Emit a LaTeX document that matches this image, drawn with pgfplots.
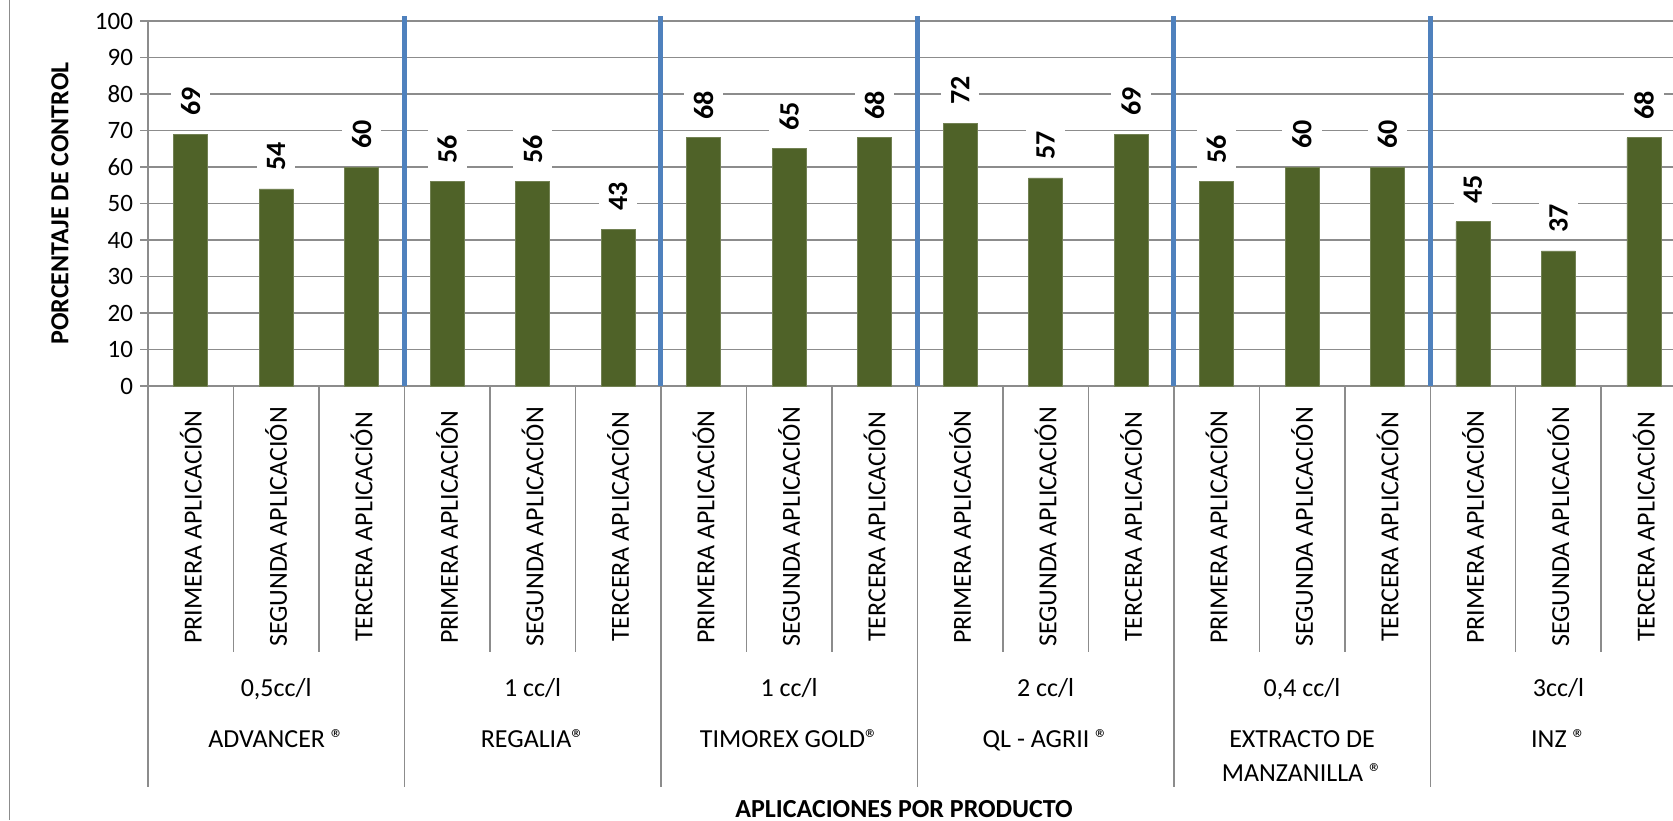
\documentclass[border=0pt]{standalone}
\usepackage{fontspec}
\setmainfont{Carlito}
\usepackage{pgfplots}
\pgfplotsset{compat=1.18}
\definecolor{barcol}{HTML}{4F6228}
\definecolor{gridcol}{HTML}{8C8C8C}
\definecolor{sepblue}{HTML}{4F81BD}
\newcommand{\catfont}{\fontsize{13}{16}\selectfont}
\newcommand{\valfont}{\fontsize{14}{17}\selectfont\bfseries}

\begin{document}
\begin{tikzpicture}
\useasboundingbox (0,0) rectangle (836.5pt,410pt);
\clip (0,0) rectangle (836.5pt,410pt);
\draw[gridcol, line width=0.8pt] (4.7pt,0) -- (4.7pt,410pt);
\begin{axis}[
    at={(74pt,217pt)}, anchor=south west,
    scale only axis, width=762.5pt, height=182.5pt,
    xmin=-0.5, xmax=17.34, ymin=0, ymax=100,
    ybar, bar width=17pt,
    ytick={0,10,...,100},
    xtick=\empty,
    ymajorgrids,
    grid style={gridcol, line width=0.75pt},
    axis lines*=left,
    axis line style={gridcol, line width=0.75pt},
    tick style={gridcol, line width=0.75pt},
    major tick length=4pt, tick align=outside,
    yticklabel style={font=\fontsize{12.5}{15}\selectfont, text=black},
    /pgf/number format/assume math mode=true,
    clip=false,
    nodes near coords,
    every node near coord/.append style={font=\valfont,
        yshift=6pt, rotate=90, anchor=west, fill=white, inner xsep=3pt, inner ysep=5pt, text=black},
]
\addplot[fill=barcol, draw=barcol!80!white, line width=0.4pt] coordinates {
    (0,69) (1,54) (2,60)
    (3,56) (4,56) (5,43)
    (6,68) (7,65) (8,68)
    (9,72) (10,57) (11,69)
    (12,56) (13,60) (14,60)
    (15,45) (16,37) (17,68)
};

% separators under the axis
\pgfplotsinvokeforeach{0.5,1.5,3.5,4.5,6.5,7.5,9.5,10.5,12.5,13.5,15.5,16.5}{
    \draw[gridcol, line width=0.75pt] (axis cs:#1,0) -- ([yshift=-133pt]axis cs:#1,0);
}
\pgfplotsinvokeforeach{-0.5,2.5,5.5,8.5,11.5,14.5,17.5}{
    \draw[gridcol, line width=0.75pt] (axis cs:#1,0) -- ([yshift=-200.5pt]axis cs:#1,0);
}
\pgfplotsinvokeforeach{2.5,5.5,8.5,11.5,14.5}{
    \draw[sepblue, line width=2.5pt] (axis cs:#1,0) -- (axis cs:#1,101.4);
}

% category labels
\pgfplotsinvokeforeach{0,3,6,9,12,15}{
    \node[rotate=90, font=\catfont] at ([yshift=-70.5pt]axis cs:#1,0) {PRIMERA APLICACIÓN};
}
\pgfplotsinvokeforeach{1,4,7,10,13,16}{
    \node[rotate=90, font=\catfont] at ([yshift=-70.5pt]axis cs:#1,0) {SEGUNDA APLICACIÓN};
}
\pgfplotsinvokeforeach{2,5,8,11,14,17}{
    \node[rotate=90, font=\catfont] at ([yshift=-70.5pt]axis cs:#1,0) {TERCERA APLICACIÓN};
}

% doses
\node[anchor=base, font=\catfont] at ([yshift=-155pt]axis cs:1,0) {0,5cc/l};
\node[anchor=base, font=\catfont] at ([yshift=-155pt]axis cs:4,0) {1 cc/l};
\node[anchor=base, font=\catfont] at ([yshift=-155pt]axis cs:7,0) {1 cc/l};
\node[anchor=base, font=\catfont] at ([yshift=-155pt]axis cs:10,0) {2 cc/l};
\node[anchor=base, font=\catfont] at ([yshift=-155pt]axis cs:13,0) {0,4 cc/l};
\node[anchor=base, font=\catfont] at ([yshift=-155pt]axis cs:16,0) {3cc/l};

% products
\node[anchor=base, font=\catfont] at ([yshift=-180.5pt]axis cs:1,0) {ADVANCER ®};
\node[anchor=base, font=\catfont] at ([yshift=-180.5pt]axis cs:4,0) {REGALIA®};
\node[anchor=base, font=\catfont] at ([yshift=-180.5pt]axis cs:7,0) {TIMOREX GOLD®};
\node[anchor=base, font=\catfont] at ([yshift=-180.5pt]axis cs:10,0) {QL - AGRII ®};
\node[anchor=base, font=\catfont] at ([yshift=-180.5pt]axis cs:13,0) {EXTRACTO DE};
\node[anchor=base, font=\catfont] at ([yshift=-197.5pt]axis cs:13,0) {MANZANILLA ®};
\node[anchor=base, font=\catfont] at ([yshift=-180.5pt]axis cs:16,0) {INZ ®};

\node[rotate=90, font=\bfseries\fontsize{13}{16}\selectfont] at ([xshift=-44pt]rel axis cs:0,0.5) {PORCENTAJE DE CONTROL};
\end{axis}
\node[anchor=base, font=\bfseries\fontsize{13}{16}\selectfont] at (452pt,1.5pt) {APLICACIONES POR PRODUCTO};
\end{tikzpicture}
\end{document}
